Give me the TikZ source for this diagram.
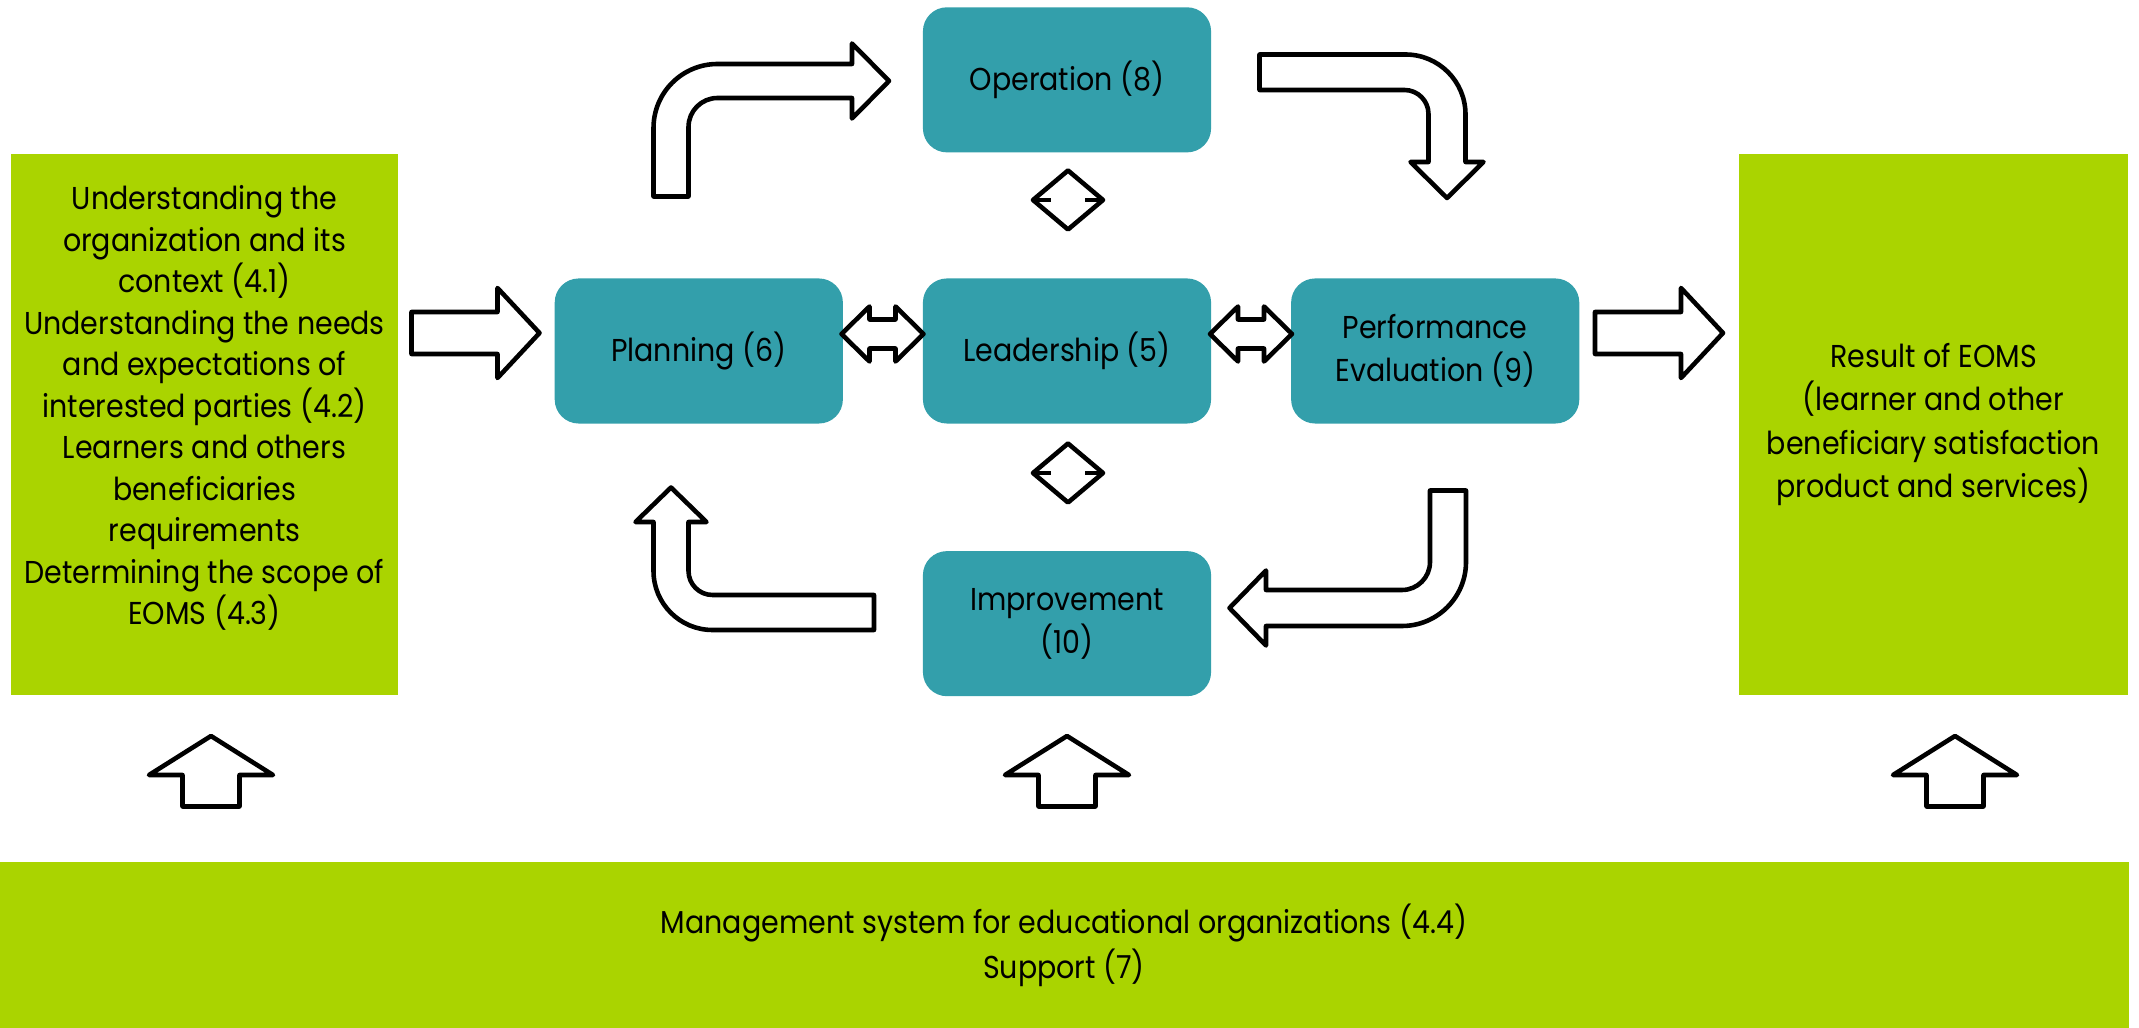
\documentclass[tikz,border=0pt]{standalone}
\usepackage{fontspec}
\setmainfont{Poppins}[FakeStretch=0.9]
\usetikzlibrary{positioning}
\definecolor{stepteal}{HTML}{339FAB}
\definecolor{clausegreen}{HTML}{AAD400}

\begin{document}
\begin{tikzpicture}[
    x=0.01cm, y=-0.01cm,
    node distance=3.68cm,
    line width=1.3pt,
    every node/.style={font=\fontsize{9}{12.2}\selectfont},
    step node/.style={rectangle,rounded corners=0.24cm,fill=stepteal,minimum width=2.88cm,minimum height=1.45cm,inner sep=0pt,align=center},
    clause node/.style={rectangle,fill=clausegreen,inner sep=0pt,align=center},
    block arrow/.style={draw=black,fill=white,line join=round}]

  \useasboundingbox (0,0) rectangle (2139,1028);

  \node[step node] (Leadership) at (1067,351) {Leadership (5)};
  \node[step node] (Planning) [left of=Leadership] {Planning (6)};
  \node[step node] (Evaluation) [right of=Leadership] {Performance\\Evaluation (9)};
  \node[step node,node distance=2.71cm] (Operation) [above of=Leadership] {Operation (8)};
  \node[step node,node distance=2.725cm] (Improvement) [below of=Leadership] {Improvement\\(10)};

  \node[clause node,minimum width=3.87cm,minimum height=5.41cm] (Context) at (204.5,424.5) {};
  \node[align=center,font=\fontsize{9}{11.8}\selectfont] (ContextText) at (204.5,408)
    {Understanding the\\organization and its\\context (4.1)\\Understanding the needs\\and expectations of\\interested parties (4.2)\\Learners and others\\beneficiaries\\requirements\\Determining the scope of\\EOMS (4.3)};
  \node[clause node,minimum width=3.89cm,minimum height=5.41cm,font=\fontsize{9}{12.4}\selectfont] (Result) at (1933.5,424.5)
    {Result of EOMS\\(learner and other\\beneficiary satisfaction\\product and services)};
  \node[clause node,minimum width=21.28cm,minimum height=1.66cm,font=\fontsize{9}{12.8}\selectfont] (Support) at (1064,945)
    {Management system for educational organizations (4.4)\\Support (7)};

  % straight arrows in and out
  \foreach \x in {411.5,1595}
    \draw[block arrow] (\x,312) -- (\x+86,312) -- (\x+86,288) -- (\x+128,333) -- (\x+86,378) -- (\x+86,354) -- (\x,354) -- cycle;

  % two-way arrows around leadership
  \foreach \cx in {882.5,1251}
    \draw[block arrow] (\cx-41,334) -- (\cx-13,306.5) -- (\cx-13,319.5) -- (\cx+13,319.5) -- (\cx+13,306.5) -- (\cx+41,334)
      -- (\cx+13,361.5) -- (\cx+13,348.5) -- (\cx-13,348.5) -- (\cx-13,361.5) -- cycle;
  \foreach \cy in {200,473} {
    \draw[block arrow] (1068,\cy-29.5) -- (1103,\cy) -- (1068,\cy+29.5) -- (1033,\cy) -- cycle;
    \draw (1033,\cy) -- (1051,\cy) (1085,\cy) -- (1103,\cy);
  }

  % bent arrows of the cycle
  \draw[block arrow] (653.5,196.5) -- (653.5,128) arc[start angle=180,end angle=270,radius=64] -- (852,64) -- (852,43.5)
    -- (889,81) -- (852,118.5) -- (852,98) -- (717.5,98) arc[start angle=270,end angle=180,radius=29] -- (688.5,196.5) -- cycle;
  \draw[block arrow] (1259.5,54.5) -- (1405.5,54.5) arc[start angle=-90,end angle=0,radius=60] -- (1465.5,162) -- (1483.5,162)
    -- (1447,198) -- (1410.5,162) -- (1428.5,162) -- (1428.5,114) arc[start angle=0,end angle=-90,radius=24] -- (1259.5,90) -- cycle;
  \draw[block arrow] (1430,490.5) -- (1466,490.5) -- (1466,562) arc[start angle=0,end angle=90,radius=64] -- (1266,626) -- (1266,645.5)
    -- (1229.5,608) -- (1266,570.5) -- (1266,590) -- (1402,590) arc[start angle=90,end angle=0,radius=28] -- cycle;
  \draw[block arrow] (874,595) -- (712.5,595) arc[start angle=90,end angle=180,radius=24] -- (688.5,522) -- (706.5,522)
    -- (671,487.5) -- (635.5,522) -- (653.5,522) -- (653.5,571) arc[start angle=180,end angle=90,radius=59] -- (874,630) -- cycle;

  % support arrows
  \foreach \cx in {211,1067,1955}
    \draw[block arrow] (\cx-28.5,806.5) -- (\cx-28.5,775) -- (\cx-62,775) -- (\cx,736) -- (\cx+62,775) -- (\cx+28.5,775) -- (\cx+28.5,806.5) -- cycle;

\end{tikzpicture}
\end{document}
